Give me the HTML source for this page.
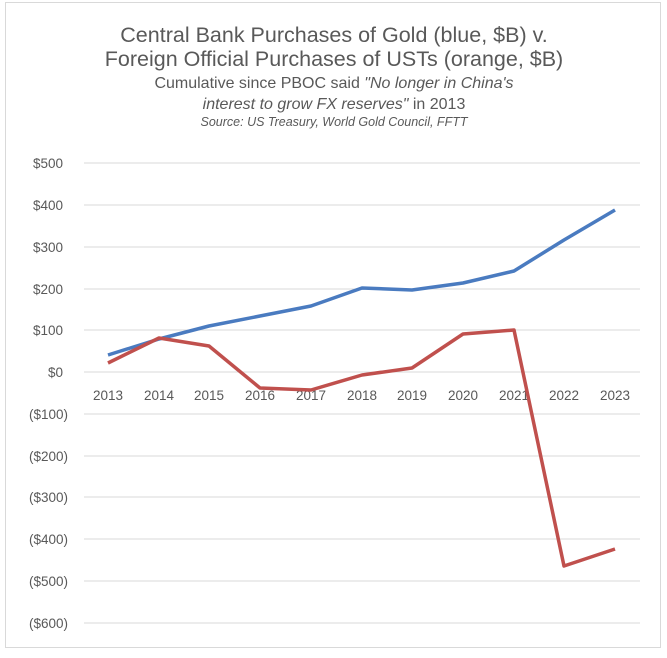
<!DOCTYPE html>
<html><head><meta charset="utf-8"><style>
body{margin:0;background:#fff;}
</style></head><body>
<svg width="667" height="653" xmlns="http://www.w3.org/2000/svg" font-family="Liberation Sans, sans-serif">
<rect x="5.5" y="2.5" width="655" height="645" fill="#fff" stroke="#d9d9d9"/>
<g fill="#595959" text-anchor="middle">
<text x="334" y="42" font-size="21.5">Central Bank Purchases of Gold (blue, $B) v.</text>
<text x="334" y="66" font-size="21.5">Foreign Official Purchases of USTs (orange, $B)</text>
<text x="334" y="88" font-size="16">Cumulative since PBOC said <tspan font-style="italic">"No longer in China's</tspan></text>
<text x="334" y="109" font-size="16"><tspan font-style="italic">interest to grow FX reserves"</tspan> in 2013</text>
<text x="334" y="126" font-size="12.5" font-style="italic">Source: US Treasury, World Gold Council, FFTT</text>
</g>
<g stroke="#d9d9d9" stroke-width="1">
<line x1="84" x2="640" y1="163" y2="163"/><line x1="84" x2="640" y1="205" y2="205"/>
<line x1="84" x2="640" y1="247" y2="247"/><line x1="84" x2="640" y1="289" y2="289"/>
<line x1="84" x2="640" y1="330" y2="330"/><line x1="84" x2="640" y1="372" y2="372"/>
<line x1="84" x2="640" y1="414" y2="414"/><line x1="84" x2="640" y1="456" y2="456"/>
<line x1="84" x2="640" y1="497" y2="497"/><line x1="84" x2="640" y1="539" y2="539"/>
<line x1="84" x2="640" y1="581" y2="581"/><line x1="84" x2="640" y1="623" y2="623"/>
</g>
<g fill="#595959" font-size="13.5" text-anchor="end">
<text x="63" y="168">$500</text><text x="63" y="210">$400</text><text x="63" y="252">$300</text>
<text x="63" y="294">$200</text><text x="63" y="335">$100</text><text x="63" y="377">$0</text>
<text x="68" y="419">($100)</text><text x="68" y="461">($200)</text><text x="68" y="502">($300)</text>
<text x="68" y="544">($400)</text><text x="68" y="586">($500)</text><text x="68" y="628">($600)</text>
</g>
<g fill="#595959" font-size="13.5" text-anchor="middle">
<text x="108" y="400">2013</text><text x="159" y="400">2014</text><text x="209" y="400">2015</text>
<text x="260" y="400">2016</text><text x="311" y="400">2017</text><text x="362" y="400">2018</text>
<text x="412" y="400">2019</text><text x="463" y="400">2020</text><text x="514" y="400">2021</text>
<text x="564" y="400">2022</text><text x="615" y="400">2023</text>
</g>
<polyline fill="none" stroke="#4a7bc0" stroke-width="3.5" stroke-linejoin="round" points="108,355 159,339 209,326 260,316 311,306 362,288 412,290 463,283 514,271 564,240 615,210"/>
<polyline fill="none" stroke="#c0504d" stroke-width="3.5" stroke-linejoin="round" points="108,363 159,338 209,346 260,388 311,390 362,375 412,368 463,334 514,330 564,566 615,549"/>
</svg>
</body></html>
